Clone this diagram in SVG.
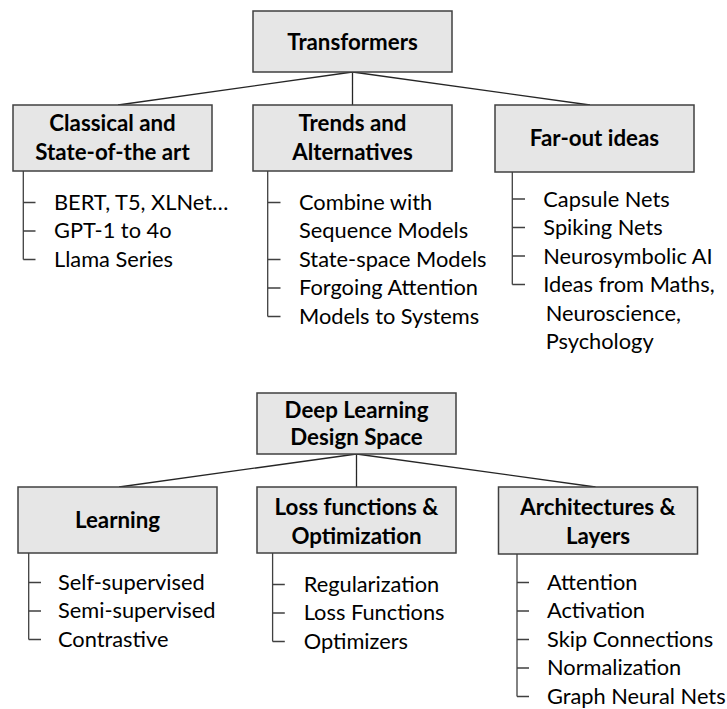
<svg xmlns="http://www.w3.org/2000/svg" width="727" height="709" viewBox="0 0 727 709">
<style>
.box{fill:#e6e6e6;stroke:#404040;stroke-width:1.5}
.t{font-family:Lato,"Open Sans","Liberation Sans",sans-serif;font-weight:bold;font-size:22.3px;fill:#000;text-anchor:middle}
.i{font-family:Lato,"Open Sans","Liberation Sans",sans-serif;font-size:21.8px;fill:#000}
.c{fill:none;stroke:#262626;stroke-width:1.3}
.tr{fill:none;stroke:#404040;stroke-width:1.3}
</style>
<rect width="727" height="709" fill="#fff"/>
<g id="connectors">
<path class="c" d="M352.5,72 L118,105 M352.5,72 V105 M352.5,72 L590,105"/>
<path class="c" d="M356.5,454 L119,487 M356.5,454 V487 M356.5,454 L595.5,487"/>
<path class="tr" d="M23.3,171 V259.5 M23.3,202.5 H35.5 M23.3,231 H35.5 M23.3,259.5 H35.5"/>
<path class="tr" d="M267.7,171 V316.5 M267.7,202.5 H280.5 M267.7,259.5 H280.5 M267.7,288 H280.5 M267.7,316.5 H280.5"/>
<path class="tr" d="M512.3,172 V284.5 M512.3,199 H525 M512.3,227.5 H525 M512.3,256 H525 M512.3,284.5 H525"/>
<path class="tr" d="M28.7,553 V639.5 M28.7,582.5 H41 M28.7,611 H41 M28.7,639.5 H41"/>
<path class="tr" d="M272.6,553 V641.5 M272.6,584.5 H284.8 M272.6,613 H284.8 M272.6,641.5 H284.8"/>
<path class="tr" d="M517,554 V696.5 M517,582.5 H529 M517,611 H529 M517,639.5 H529 M517,668 H529 M517,696.5 H529"/>
</g>
<g id="transformers">
<rect class="box" x="253" y="11" width="199" height="61"/>
<text class="t" x="352.5" y="50">Transformers</text>
</g>
<g id="classical">
<rect class="box" x="13" y="105" width="199" height="66"/>
<text class="t" x="112.5" y="131">Classical and</text>
<text class="t" x="112.5" y="160">State-of-the art</text>
</g>
<g id="trends">
<rect class="box" x="253" y="105" width="199" height="66"/>
<text class="t" x="352.5" y="131">Trends and</text>
<text class="t" x="352.5" y="160">Alternatives</text>
</g>
<g id="farout">
<rect class="box" x="495" y="105" width="199" height="67"/>
<text class="t" x="594.5" y="146">Far-out ideas</text>
</g>
<g id="classical-items">
<text class="i" x="54" y="209.5">BERT, T5, XLNet…</text>
<text class="i" x="54" y="238">GPT-1 to 4o</text>
<text class="i" x="54" y="266.5">Llama Series</text>
</g>
<g id="trends-items">
<text class="i" x="299" y="209.5">Combine with</text>
<text class="i" x="299" y="238">Sequence Models</text>
<text class="i" x="299" y="266.5">State-space Models</text>
<text class="i" x="299" y="295">Forgoing Attention</text>
<text class="i" x="299" y="323.5">Models to Systems</text>
</g>
<g id="farout-items">
<text class="i" x="543.3" y="206.5">Capsule Nets</text>
<text class="i" x="543.3" y="235">Spiking Nets</text>
<text class="i" x="543.3" y="263.5">Neurosymbolic AI</text>
<text class="i" x="543.3" y="292">Ideas from Maths,</text>
<text class="i" x="545.7" y="320.5">Neuroscience,</text>
<text class="i" x="545.7" y="349">Psychology</text>
</g>
<g id="deep-learning">
<rect class="box" x="257" y="393" width="199" height="61"/>
<text class="t" x="356.5" y="417.5">Deep Learning</text>
<text class="t" x="356.5" y="445">Design Space</text>
</g>
<g id="learning">
<rect class="box" x="18" y="487" width="199" height="66"/>
<text class="t" x="117.5" y="527.5">Learning</text>
</g>
<g id="loss">
<rect class="box" x="257" y="487" width="199" height="66"/>
<text class="t" x="356.5" y="515">Loss functions &amp;</text>
<text class="t" x="356.5" y="543.5">Optimization</text>
</g>
<g id="architectures">
<rect class="box" x="498.5" y="487" width="199" height="67"/>
<text class="t" x="598" y="515">Architectures &amp;</text>
<text class="t" x="598" y="543.5">Layers</text>
</g>
<g id="learning-items">
<text class="i" x="58" y="589.5">Self-supervised</text>
<text class="i" x="58" y="618">Semi-supervised</text>
<text class="i" x="58" y="646.5">Contrastive</text>
</g>
<g id="loss-items">
<text class="i" x="303.7" y="591.5">Regularization</text>
<text class="i" x="303.7" y="620">Loss Functions</text>
<text class="i" x="303.7" y="648.5">Optimizers</text>
</g>
<g id="architectures-items">
<text class="i" x="547" y="589.5">Attention</text>
<text class="i" x="547" y="618">Activation</text>
<text class="i" x="547" y="646.5">Skip Connections</text>
<text class="i" x="547" y="675">Normalization</text>
<text class="i" x="547" y="703.5">Graph Neural Nets</text>
</g>
</svg>
